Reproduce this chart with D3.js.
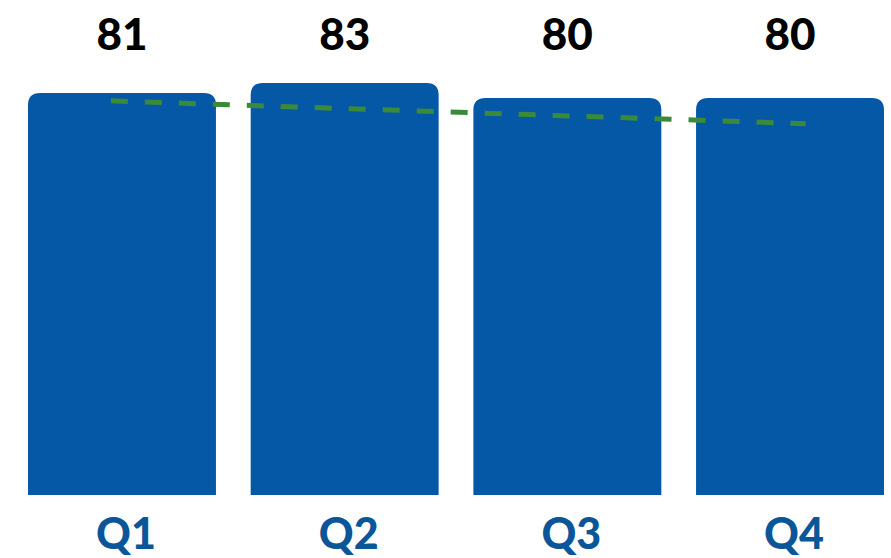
<!DOCTYPE html>
<html lang="en">
<head>
<meta charset="UTF-8">
<title>Quarterly scores</title>
<script src="https://d3js.org/d3.v7.min.js"></script>
<style>
  html, body { margin: 0; padding: 0; background: #fff; }
  svg { display: block; }
  .value { font-family: Lato, "Open Sans", sans-serif; font-weight: 900; fill: #000; }
  .quarter { font-family: Lato, "Open Sans", sans-serif; font-weight: 900; fill: #0b5699; }
</style>
</head>
<body>
<svg></svg>
<script>
// data
const quarters = ["Q1", "Q2", "Q3", "Q4"];
const scores = [81, 83, 80, 80];
// dashed trend line: position on the quarter axis (1 = Q1) and value
const trendPos = [0.95, 4.07];
const trendVals = [79.4, 74.8];

const width = 891;
const height = 558;
const svg = d3.select("svg").attr("width", width).attr("height", height);

const x = d3.scaleBand()
    .domain(quarters)
    .range([28, 884])
    .paddingInner(0.156)
    .paddingOuter(0);

const y = d3.scaleLinear()
    .domain([0, 83])
    .range([495, 83]);

// quarter index -> pixel (for the trend line)
const xq = d3.scaleLinear()
    .domain([1, 4])
    .range([x("Q1") + x.bandwidth() / 2, x("Q4") + x.bandwidth() / 2]);

const r = 12;
function topRounded(x0, y0, w, h) {
    return `M${x0},${y0 + h} V${y0 + r} Q${x0},${y0} ${x0 + r},${y0} H${x0 + w - r} Q${x0 + w},${y0} ${x0 + w},${y0 + r} V${y0 + h} Z`;
}

// bars
svg.selectAll(".bar")
    .data(scores)
    .enter().append("path")
    .attr("class", "bar")
    .attr("fill", "#0558a6")
    .attr("d", (d, i) => topRounded(x(quarters[i]), y(d), x.bandwidth(), y(0) - y(d)));

// trend line
const line = d3.line()
    .x(d => xq(d[0]))
    .y(d => y(d[1]));
svg.append("path")
    .datum(trendPos.map((p, i) => [p, trendVals[i]]))
    .attr("d", line)
    .attr("fill", "none")
    .attr("stroke", "#3b8a3a")
    .attr("stroke-width", 5)
    .attr("stroke-dasharray", "17 17");

// value labels
svg.selectAll(".value")
    .data(scores)
    .enter().append("text")
    .attr("class", "value")
    .attr("x", (d, i) => x(quarters[i]) + x.bandwidth() / 2)
    .attr("y", 50)
    .attr("text-anchor", "middle")
    .attr("font-size", "44px")
    .text(d => d);

// quarter labels
svg.selectAll(".quarter")
    .data(quarters)
    .enter().append("text")
    .attr("class", "quarter")
    .attr("x", d => x(d) + x.bandwidth() / 2 + 4)
    .attr("y", 549)
    .attr("text-anchor", "middle")
    .attr("font-size", "43px")
    .text(d => d);
</script>
</body>
</html>
